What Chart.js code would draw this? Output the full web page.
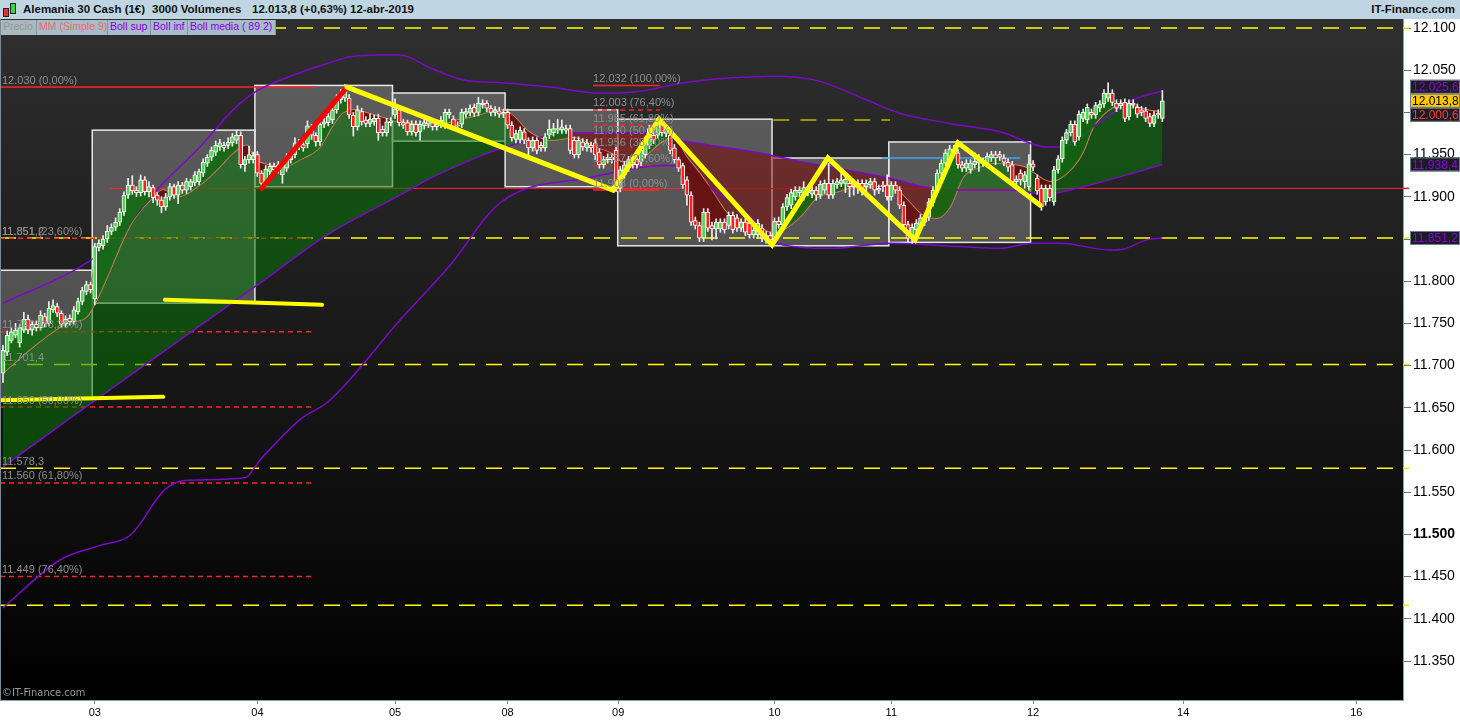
<!DOCTYPE html>
<html lang="es">
<head>
<meta charset="utf-8">
<title>Alemania 30 Cash</title>
<script src="https://cdn.jsdelivr.net/npm/chart.js@4.4.1/dist/chart.umd.min.js"></script>
<style>
  html, body { margin: 0; padding: 0; width: 1460px; height: 720px; overflow: hidden; background: #fff; }
  body { position: relative; font-family: "Liberation Sans", Arial, sans-serif; }
  #c { position: absolute; left: 0; top: 0; }
  #hdr { position: absolute; left: 0; top: 0; width: 1460px; height: 19px; background: #bfd6e2; }
  #hdr span { position: absolute; top: 3px; font: bold 11.5px "Liberation Sans", Arial, sans-serif; color: #111; white-space: nowrap; }
  .ico { position: absolute; width: 4px; border: 1px solid #222; }
  .leg { position: absolute; top: 20px; height: 15px; line-height: 15px; font: 10.5px "Liberation Sans", Arial, sans-serif;
         background: #a6bcc8; border-right: 1px solid #7f97a4; padding-left: 2px; box-sizing: border-box; white-space: nowrap; overflow: hidden; }
  #copy { position: absolute; left: 2px; top: 686px; font: 11px "DejaVu Sans Condensed", "Liberation Sans", sans-serif; color: #9a9a9a; }
</style>
</head>
<body>
<canvas id="c" width="1460" height="720"></canvas>
<div id="hdr">
  <div class="ico" style="left:3px;top:8px;height:7px;background:#e83030"></div>
  <div class="ico" style="left:10px;top:3px;height:9px;background:#3fd23f"></div>
  <span style="left:23px">Alemania 30 Cash (1€)</span>
  <span style="left:152px">3000 Volúmenes</span>
  <span style="left:252px">12.013,8 (+0,63%)</span>
  <span style="left:350px">12-abr-2019</span>
  <span style="right:5px">IT-Finance.com</span>
</div>
<span class="leg" style="left:1px;width:36px;color:#979797;background:#aab8c0">Precio</span>
<span class="leg" style="left:37px;width:71px;color:#ee6b6b">MM (Simple 9)</span>
<span class="leg" style="left:108px;width:43px;color:#8a00e0">Boll sup</span>
<span class="leg" style="left:151px;width:37px;color:#8a00e0">Boll inf</span>
<span class="leg" style="left:188px;width:88px;color:#8a00e0">Boll media ( 89 2)</span>
<div id="copy">©IT-Finance.com</div>
<script>
// velas de 3000 volúmenes (índice = nº de barra)
const opens = [
  11691,11716,11730,11736,11727,11742,11755,11742,11749,11745,
  11758,11750,11766,11770,11762,11749,11756,11752,11764,11776,
  11788,11796,11779,11840,11842,11850,11859,11864,11870,11882,
  11902,11914,11908,11905,11920,11906,11911,11902,11896,11888,
  11900,11912,11902,11914,11908,11912,11917,11918,11928,11940,
  11947,11953,11959,11961,11961,11964,11967,11973,11938,11944,
  11944,11950,11928,11916,11930,11936,11932,11926,11934,11944,
  11950,11964,11962,11963,11982,11973,11965,11986,11988,11991,
  12003,12015,12017,12017,11997,11983,12001,11991,11987,11989,
  11993,11980,11976,11988,11997,12003,11988,11988,11977,11986,
  11977,11984,11986,11988,11983,11986,11985,11997,11992,11985,
  11986,11998,12000,12006,12000,12009,12011,12005,12000,12002,
  11998,12000,11985,11968,11968,11977,11967,11958,11967,11961,
  11958,11973,11976,11979,11979,11979,11981,11967,11950,11965,
  11958,11961,11964,11953,11938,11944,11947,11955,11910,11926,
  11934,11938,11944,11941,11950,11961,11973,11973,11988,11975,
  11973,11958,11944,11937,11920,11902,11872,11866,11851,11882,
  11866,11862,11862,11870,11866,11878,11875,11863,11870,11869,
  11855,11855,11863,11855,11854,11849,11871,11867,11888,11890,
  11900,11905,11900,11909,11903,11908,11902,11908,11916,11902,
  11914,11916,11916,11916,11912,11916,11916,11912,11914,11918,
  11910,11914,11914,11900,11914,11908,11890,11867,11851,11861,
  11867,11870,11876,11893,11908,11928,11940,11944,11957,11952,
  11938,11934,11932,11938,11940,11942,11939,11946,11950,11950,
  11946,11941,11938,11918,11928,11918,11912,11939,11922,11910,
  11894,11910,11894,11932,11945,11967,11976,11986,11971,11993,
  11991,12000,11997,12005,12010,12017,12023,12011,12008,12012,
  11995,12011,12006,12003,12002,11995,11987,11999,11993
];
const closes = [
  11718,11736,11740,11742,11745,11755,11742,11749,11745,11760,
  11750,11768,11771,11762,11749,11755,11752,11766,11776,11789,
  11796,11790,11841,11845,11850,11859,11864,11870,11882,11902,
  11914,11907,11905,11920,11906,11912,11899,11896,11888,11900,
  11912,11902,11914,11908,11918,11918,11926,11930,11941,11947,
  11955,11961,11964,11958,11965,11971,11973,11938,11944,11950,
  11949,11928,11916,11933,11936,11932,11938,11938,11947,11950,
  11964,11960,11958,11984,11973,11965,11986,11989,11995,12003,
  12017,12023,12027,11997,11983,12003,11989,11987,11992,11993,
  11976,11976,11989,11990,12004,11988,11985,11977,11986,11976,
  11986,11988,11991,11983,11986,11991,12000,12000,11983,11984,
  12000,12001,12005,11999,12011,12011,12005,12000,12003,11998,
  12000,11985,11970,11975,11979,11967,11958,11967,11955,11958,
  11971,11980,11981,11981,11983,11981,11955,11950,11967,11959,
  11964,11958,11950,11938,11944,11947,11944,11910,11932,11938,
  11944,11944,11938,11955,11967,11981,11967,11988,11976,11981,
  11955,11944,11934,11914,11902,11870,11866,11851,11882,11863,
  11862,11870,11870,11861,11878,11861,11863,11870,11858,11855,
  11861,11869,11851,11849,11849,11871,11867,11888,11899,11905,
  11908,11908,11911,11905,11908,11902,11915,11916,11902,11916,
  11918,11920,11921,11912,11916,11912,11908,11916,11918,11908,
  11908,11912,11900,11914,11908,11890,11867,11851,11864,11869,
  11875,11876,11894,11908,11928,11940,11952,11957,11952,11938,
  11934,11940,11940,11942,11944,11940,11948,11950,11946,11947,
  11941,11935,11918,11921,11920,11926,11939,11935,11907,11888,
  11910,11899,11932,11945,11967,11976,11986,11965,11998,12000,
  12006,11997,12008,12010,12023,12023,12012,12005,12011,11993,
  12011,12009,11998,12000,11993,11987,11997,11997,12013.8
];
const highs = [
  11724,11741,11744,11750,11749,11763,11760,11752,11753,11765,
  11762,11776,11778,11774,11765,11759,11760,11770,11780,11793,
  11800,11799,11845,11849,11854,11866,11868,11875,11886,11906,
  11922,11925,11912,11926,11924,11918,11914,11905,11900,11904,
  11916,11915,11918,11917,11922,11921,11930,11933,11945,11950,
  11959,11966,11968,11965,11970,11975,11979,11977,11948,11960,
  11953,11954,11931,11937,11940,11940,11942,11942,11951,11954,
  11970,11968,11966,11990,11986,11976,11990,11993,11999,12007,
  12021,12027,12033,12021,12000,12008,12005,11995,11998,11997,
  11998,11984,11993,11994,12016,12006,11992,11991,11990,11990,
  11990,11992,11995,11992,11991,11995,12004,12004,11996,11989,
  12004,12005,12009,12010,12018,12015,12014,12008,12007,12006,
  12004,12004,11989,11979,11983,11981,11970,11971,11970,11965,
  11975,11991,11987,11992,11991,11985,11985,11971,11971,11969,
  11968,11965,11968,11957,11948,11951,11951,11959,11936,11942,
  11948,11948,11948,11959,11971,11985,11977,11993,11991,11985,
  11977,11962,11947,11940,11924,11906,11876,11870,11886,11886,
  11870,11874,11874,11874,11882,11882,11879,11874,11874,11873,
  11865,11873,11867,11859,11858,11875,11876,11892,11903,11909,
  11912,11912,11918,11913,11912,11912,11919,11920,11940,11920,
  11922,11932,11925,11920,11920,11920,11920,11920,11922,11922,
  11914,11918,11926,11918,11918,11912,11894,11871,11868,11873,
  11879,11880,11898,11912,11932,11944,11956,11961,11961,11956,
  11942,11944,11944,11952,11950,11946,11952,11954,11954,11954,
  11950,11945,11942,11925,11932,11930,11950,11943,11926,11914,
  11914,11914,11936,11949,11971,11980,11990,11990,12002,12004,
  12010,12004,12012,12014,12027,12035,12027,12015,12015,12016,
  12015,12015,12010,12007,12006,11999,12001,12003,12026
];
const lows = [
  11680,11712,11727,11733,11722,11739,11738,11736,11741,11742,
  11746,11747,11763,11758,11745,11746,11748,11749,11761,11772,
  11784,11786,11772,11836,11838,11846,11855,11860,11866,11878,
  11898,11903,11900,11901,11902,11900,11893,11890,11881,11884,
  11896,11898,11892,11904,11904,11908,11913,11914,11924,11936,
  11943,11949,11955,11954,11957,11960,11963,11934,11930,11940,
  11940,11924,11911,11912,11926,11928,11928,11916,11930,11940,
  11946,11956,11954,11958,11968,11960,11961,11982,11984,11987,
  11999,12011,12013,11993,11972,11979,11985,11983,11983,11985,
  11967,11972,11972,11984,11993,11984,11981,11973,11973,11972,
  11967,11980,11982,11979,11979,11982,11981,11993,11979,11980,
  11982,11994,11996,11995,11996,12005,12001,11996,11996,11994,
  11994,11981,11966,11964,11964,11963,11950,11954,11951,11954,
  11954,11969,11972,11975,11975,11975,11951,11946,11946,11955,
  11954,11953,11944,11934,11934,11940,11940,11906,11906,11922,
  11930,11934,11934,11937,11946,11957,11963,11969,11972,11971,
  11951,11940,11930,11910,11890,11866,11862,11847,11847,11859,
  11849,11850,11858,11857,11862,11857,11859,11859,11854,11851,
  11851,11851,11847,11845,11846,11846,11863,11863,11884,11886,
  11896,11900,11896,11901,11899,11896,11898,11904,11898,11898,
  11910,11912,11905,11900,11902,11904,11902,11900,11910,11902,
  11904,11906,11896,11896,11904,11886,11863,11847,11845,11857,
  11863,11866,11872,11889,11904,11924,11936,11940,11948,11934,
  11930,11930,11928,11934,11930,11936,11935,11942,11938,11943,
  11937,11930,11914,11914,11914,11910,11908,11931,11903,11884,
  11890,11895,11890,11928,11941,11963,11972,11961,11967,11989,
  11987,11993,11993,12001,12006,12013,12008,12001,12004,11989,
  11991,12005,11994,11996,11989,11983,11983,11993,11989
];

const mmX = [0,7.2,15.3,20.1,22.5,25.7,28.8,31.2,35.3,38.4,41.7,47.2,51.3,55.2,58.5,60,63.3,67.1,71.2,76,
  78.9,81.3,84.4,87.5,91.6,94.7,102.9,109.1,113.9,118.7,121.6,126.4,131.2,136.7,142.4,145.6,148.7,153.5,157.6,160.7,
  164,167.1,170.3,173.6,176.7,179.9,183.9,187.1,191.1,195.2,200,204.8,211,214.4,217.5,220.6,224,227.1,230.2,233.6,
  238.4,242.2,245.6,248.7,251.1,253.5,256.6,259,261.4,263.8,266.2,268.6,271,274.3,278];
const mmY = [11691,11722,11750,11758,11778,11813,11849,11872,11896,11908,11900,11914,11932,11952,11961,11947,11938,11935,11944,11959,
  11983,11999,12003,11999,11993,11989,11985,11991,11997,12003,11999,11976,11967,11970,11958,11952,11941,11947,11964,11971,
  11947,11928,11905,11881,11870,11869,11858,11861,11876,11899,11906,11912,11912,11908,11893,11878,11875,11888,11923,11934,
  11940,11938,11934,11923,11918,11922,11935,11953,11982,11997,12006,12011,12008,12003,12000.6];
const midX = [0,15.6,40,60,78.4,95.2,102.9,113.9,120.4,136.7,154.4,162.4,181.5,191,212.7,220.6,228.8,241.5,249.9,259,269.5,278];
const midY = [11580,11636,11722,11792,11857,11902,11923,11947,11959,11976,11976,11967,11952,11942,11922,11912,11908,11908,11903,11912,11926,11938.4];
const supX = [0,18.5,25.7,37.6,47.2,55.2,60,71.2,78.4,83.2,90.4,95.2,102.4,110.8,120.4,131.2,143.2,151,163,175,
  184.7,195,207,215,227,239.1,250.4,253.5,263.1,271,278];
const supY = [11774,11817,11843,11912,11959,12003,12023,12047,12059,12066,12068,12068,12053,12038,12035,12030,12023,12024,12035,12041,
  12043,12038,12015,11999,11987,11977,11959,11959,11989,12015,12025.6];
const infX = [0,13.7,23.3,30.5,38.8,43.6,58,61.6,71.2,78.4,95.2,107.2,119.2,140.8,159.2,164,170.3,175.1,179.9,183.2,
  187.1,199,212.7,229.5,239.1,247,253.5,265.5,268.6,274.3,278];
const infY = [11413,11470,11487,11499,11553,11564,11567,11588,11636,11659,11754,11819,11893,11923,11937,11932,11908,11893,11873,11852,
  11843,11839,11845,11841,11839,11845,11845,11837,11838,11849,11851.2];

// eje
const dayTicks = [22, 61, 94, 121, 147.5, 185, 213, 247, 283, 324.5];
const dayLabels = ['03', '04', '05', '08', '09', '10', '11', '12', '14', '16'];
const priceTicks = [11350,11400,11450,11500,11550,11600,11650,11700,11750,11800,11850,11900,11950,12000,12050,12100];

// rangos diarios (cajas)
const boxX0 = [-0.72, 21.4, 60.4, 93.4, 120.4, 147.4, 184.4, 212.4];
const boxX1 = [21.4, 60.4, 93.4, 120.4, 147.4, 184.4, 212.4, 246.4];
const boxHi = [11813, 11979, 12032, 12023, 12003, 11992, 11946, 11965];
const boxLo = [11660, 11774, 11912, 11966, 11912, 11842, 11842, 11846];

// niveles horizontales
const yellowLevels = [12100, 11851.2, 11701.4, 11578.3, 11416];
const fibLeft = [12030, 11851, 11740, 11651, 11561, 11450];
const fibLeftTxt = ['12.030 (0,00%)', '11.851 (23,60%)', '11.740 (38,20%)', '11.650 (50,00%)', '11.560 (61,80%)', '11.449 (76,40%)'];
const fibMid = [12032, 12003, 11985, 11970, 11956, 11937, 11908];
const fibMidTxt = ['12.032 (100,00%)', '12.003 (76,40%)', '11.985 (61,80%)', '11.970 (50,00%)', '11.956 (38,20%)', '11.937 (23,60%)', '11.908 (0,00%)'];
const levelTxt = ['11.851,2', '11.701,4', '11.578,3'];

// trazos
const zigX = [82.5, 146.3, 157.3, 184.4, 197.8, 218.7, 229, 248.7];
const zigY = [12030, 11908, 11992, 11843, 11946, 11849, 11964, 11890];
const redX = [62, 82.5];
const redY = [11910, 12030];
const flatAX = [38.8, 76.5], flatAY = [11778, 11772];
const flatBX = [-0.7, 38.4], flatBY = [11659, 11663];

// etiquetas del eje derecho
const tagV = [12025.6, 12013.8, 12000.6, 11938.4, 11851.2];

const kfmt = v => { const s = String(Math.round(v)); return s.slice(0, -3) + '.' + s.slice(-3); };
const dfmt = v => { const [a, b] = v.toFixed(1).split('.'); return a.slice(0, -3) + '.' + a.slice(-3) + ',' + b; };
const pts = (xs, ys) => xs.map((x, k) => ({ x, y: ys[k] }));

const FONT = '"Liberation Sans", Arial, sans-serif';

function path(ctx, sx, sy, xs, ys) {
  ctx.beginPath();
  xs.forEach((v, k) => {
    const px = sx.getPixelForValue(v), py = sy.getPixelForValue(ys[k]);
    if (k) ctx.lineTo(px, py); else ctx.moveTo(px, py);
  });
  ctx.stroke();
}

const overlay = {
  id: 'overlay',
  beforeDraw(chart) {
    const { ctx, chartArea: a, scales: { x, y } } = chart;
    ctx.save();
    const g = ctx.createLinearGradient(0, a.top, 0, a.bottom);
    g.addColorStop(0, '#2f2f2f');
    g.addColorStop(0.8, '#0a0a0a');
    g.addColorStop(1, '#000000');
    ctx.fillStyle = g;
    ctx.fillRect(a.left, a.top, a.right - a.left, a.bottom - a.top);
    ctx.fillStyle = 'rgba(255,255,255,0.235)';
    boxHi.forEach((hi, k) => {
      const x0 = x.getPixelForValue(boxX0[k]), x1 = x.getPixelForValue(boxX1[k]);
      const y0 = y.getPixelForValue(hi), y1 = y.getPixelForValue(boxLo[k]);
      ctx.fillRect(x0, y0, x1 - x0, y1 - y0);
    });
    ctx.restore();
  },
  beforeDatasetsDraw(chart) {
    const { ctx, chartArea: a, scales: { x, y } } = chart;
    ctx.save();
    ctx.beginPath();
    ctx.rect(a.left, a.top, a.right - a.left, a.bottom - a.top);
    ctx.clip();
    // bordes de cajas
    ctx.strokeStyle = '#e6e6e6';
    ctx.lineWidth = 1.5;
    boxHi.forEach((hi, k) => {
      const x0 = x.getPixelForValue(boxX0[k]), x1 = x.getPixelForValue(boxX1[k]);
      const y0 = y.getPixelForValue(hi), y1 = y.getPixelForValue(boxLo[k]);
      ctx.strokeRect(x0, y0, x1 - x0, y1 - y0);
    });
    const h = (x0, x1, v) => path(ctx, x, y, [x0, x1], [v, v]);
    // amarillas discontinuas
    ctx.strokeStyle = '#ffff00';
    ctx.lineWidth = 1.5;
    ctx.setLineDash([16, 11]);
    yellowLevels.forEach(v => h(x.min, x.max, v));
    ctx.strokeStyle = '#b8b800';
    h(184.7, 212.7, 11991);
    // rojas
    ctx.strokeStyle = '#ff2424';
    ctx.setLineDash([]);
    ctx.lineWidth = 1;
    h(25.6, x.max, 11910);
    ctx.lineWidth = 1.5;
    h(x.min, 74.8, fibLeft[0]);
    h(141.5, 157.5, fibMid[0]);
    h(141.5, 157.5, fibMid[fibMid.length - 1]);
    ctx.setLineDash([5, 4]);
    fibLeft.slice(1).forEach(v => h(x.min, 74.8, v));
    fibMid.slice(1, -1).forEach(v => h(141.5, 157.5, v));
    ctx.setLineDash([]);
    ctx.strokeStyle = '#3aa8f0';
    h(210.8, 243.9, 11946);
    ctx.strokeStyle = '#8a10d8';
    h(250, 253.5, 11909);
    ctx.restore();
  },
  afterDatasetsDraw(chart) {
    const { ctx, chartArea: a, scales: { x, y } } = chart;
    ctx.save();
    ctx.beginPath();
    ctx.rect(a.left, a.top, a.right - a.left, a.bottom - a.top);
    ctx.clip();
    ctx.lineJoin = 'miter';
    ctx.lineCap = 'round';
    ctx.lineWidth = 5;
    ctx.strokeStyle = '#ff0000';
    path(ctx, x, y, redX, redY);
    ctx.strokeStyle = '#ffff00';
    path(ctx, x, y, zigX, zigY);
    ctx.lineWidth = 4;
    path(ctx, x, y, flatAX, flatAY);
    path(ctx, x, y, flatBX, flatBY);
    // textos
    ctx.font = '11px ' + FONT;
    ctx.fillStyle = '#8e8e8e';
    ctx.textBaseline = 'bottom';
    ctx.textAlign = 'left';
    fibLeft.forEach((v, k) => ctx.fillText(fibLeftTxt[k], 2, y.getPixelForValue(v) - 1));
    fibMid.forEach((v, k) => ctx.fillText(fibMidTxt[k], x.getPixelForValue(141.5), y.getPixelForValue(v) - 1));
    [yellowLevels[1], yellowLevels[2], yellowLevels[3]].forEach((v, k) => ctx.fillText(levelTxt[k], 2, y.getPixelForValue(v) - 1));
    ctx.restore();
  },
  afterDraw(chart) {
    const { ctx, chartArea: a, scales: { y } } = chart;
    ctx.save();
    // marcas de color en el eje
    ctx.lineWidth = 1.5;
    ctx.strokeStyle = '#e8e800';
    yellowLevels.forEach(v => { const py = y.getPixelForValue(v); ctx.beginPath(); ctx.moveTo(a.right, py); ctx.lineTo(a.right + 6, py); ctx.stroke(); });
    ctx.strokeStyle = '#e02020';
    const pr = y.getPixelForValue(11910);
    ctx.beginPath(); ctx.moveTo(a.right, pr); ctx.lineTo(a.right + 6, pr); ctx.stroke();
    // cajas de valores
    const fg = ['#8c00e8', '#000000', '#ff3a3a', '#8c00e8', '#8c00e8'];
    const bg = ['#1c1c24', '#ffc800', '#1c1c24', '#1c1c24', '#1c1c24'];
    const hgt = 14;
    const ys = tagV.map(v => y.getPixelForValue(v));
    ys[0] = Math.min(ys[0], ys[1] - hgt);
    for (let k = 2; k < ys.length; k++) ys[k] = Math.max(ys[k], ys[k - 1] + hgt);
    ctx.font = '12px ' + FONT;
    ctx.textBaseline = 'middle';
    ctx.textAlign = 'left';
    ys.forEach((py, k) => {
      ctx.fillStyle = bg[k];
      ctx.fillRect(a.right + 7, py - hgt / 2, 50, hgt);
      ctx.strokeStyle = '#71828e';
      ctx.lineWidth = 1;
      ctx.strokeRect(a.right + 7.5, py - hgt / 2 + 0.5, 49, hgt - 1);
      ctx.fillStyle = fg[k];
      ctx.fillText(dfmt(tagV[k]), a.right + 9, py + 1);
    });
    // borde izquierdo
    ctx.fillStyle = '#7c8a93';
    ctx.fillRect(0, a.top, 1, a.bottom - a.top);
    ctx.restore();
  }
};

const idx = closes.map((_, i) => i);

new Chart(document.getElementById('c'), {
  type: 'bar',
  data: {
    datasets: [
      {
        type: 'bar', label: 'Cuerpo',
        data: idx.map(i => ({ x: i, y: [opens[i], closes[i]] })),
        backgroundColor: idx.map(i => closes[i] >= opens[i] ? '#55d455' : '#ff1e1e'),
        borderColor: '#ffffff', borderWidth: 1, borderSkipped: false,
        barThickness: 4, grouped: false, order: 0
      },
      {
        type: 'bar', label: 'Mecha',
        data: idx.map(i => ({ x: i, y: [lows[i], highs[i]] })),
        backgroundColor: '#f0f0f0', borderWidth: 0,
        barThickness: 1, grouped: false, order: 1
      },
      {
        type: 'line', label: 'Precio',
        data: idx.map(i => ({ x: i, y: closes[i] })),
        borderColor: 'rgba(0,0,0,0)', borderWidth: 0, pointRadius: 0,
        fill: { target: 3, above: 'rgba(14,108,14,0.85)', below: 'rgba(104,8,8,0.85)' },
        order: 2
      },
      {
        type: 'line', label: 'MM (Simple 9)',
        data: pts(mmX, mmY),
        borderColor: '#d98470', borderWidth: 1.5, pointRadius: 0, cubicInterpolationMode: 'monotone',
        fill: { target: 4, above: 'rgba(6,119,6,0.52)', below: 'rgba(124,4,4,0.52)' },
        order: 6
      },
      {
        type: 'line', label: 'Boll media',
        data: pts(midX, midY),
        borderColor: '#7d08cc', borderWidth: 1.5, pointRadius: 0, cubicInterpolationMode: 'monotone', fill: false, order: 5
      },
      {
        type: 'line', label: 'Boll sup',
        data: pts(supX, supY),
        borderColor: '#7d08cc', borderWidth: 1.5, pointRadius: 0, cubicInterpolationMode: 'monotone', fill: false, order: 5
      },
      {
        type: 'line', label: 'Boll inf',
        data: pts(infX, infY),
        borderColor: '#7d08cc', borderWidth: 1.5, pointRadius: 0, cubicInterpolationMode: 'monotone', fill: false, order: 5
      }
    ]
  },
  options: {
    responsive: false,
    animation: false,
    devicePixelRatio: 1,
    layout: { padding: { top: 19, left: 0, right: 0, bottom: 0 } },
    plugins: { legend: { display: false }, tooltip: { enabled: false } },
    scales: {
      x: {
        type: 'linear', position: 'bottom', offset: false,
        min: -0.72, max: 335.7,
        afterBuildTicks: ax => { ax.ticks = dayTicks.map(v => ({ value: v })); },
        afterFit: ax => { ax.height = 20; },
        grid: { offset: false, drawOnChartArea: false, tickLength: 4, color: '#6f8591' },
        border: { color: '#8aa0ac' },
        ticks: {
          autoSkip: false, maxRotation: 0, padding: 2, color: '#000',
          font: { family: FONT, size: 11 },
          callback: v => { const k = dayTicks.indexOf(v); return k < 0 ? '' : dayLabels[k]; }
        }
      },
      y: {
        type: 'linear', position: 'right',
        min: 11303.8, max: 12110.7,
        afterBuildTicks: ax => { ax.ticks = priceTicks.map(v => ({ value: v })); },
        afterFit: ax => { ax.width = 57; },
        grid: { drawOnChartArea: false, tickLength: 8, color: '#5f7784' },
        border: { color: '#8aa0ac' },
        ticks: {
          padding: 2, color: '#000',
          font: c => ({ family: FONT, size: 14, weight: c.tick && c.tick.value === 11500 ? 'bold' : 'normal' }),
          callback: v => kfmt(v)
        }
      }
    }
  },
  plugins: [overlay]
});
</script>
</body>
</html>
